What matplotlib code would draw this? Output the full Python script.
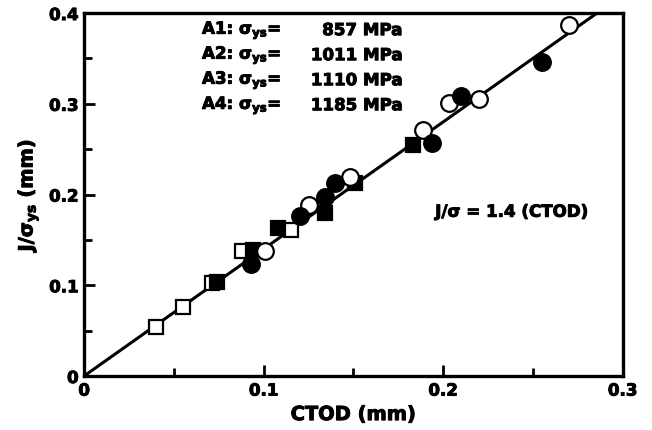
import matplotlib.pyplot as plt
import matplotlib.patheffects as pe
import numpy as np

plt.rcParams['font.family'] = 'DejaVu Sans'
plt.rcParams['font.weight'] = 'bold'
plt.rcParams['mathtext.fontset'] = 'dejavusans'
plt.rcParams['mathtext.default'] = 'rm'

# CTOD (mm) and J/sigma_ys (mm) for each steel
ctod_open_sq = [0.040, 0.055, 0.071, 0.088, 0.115]
j_open_sq = [0.054, 0.076, 0.102, 0.138, 0.161]

ctod_fill_sq = [0.074, 0.094, 0.108, 0.134, 0.151, 0.183]
j_fill_sq = [0.104, 0.139, 0.163, 0.180, 0.213, 0.255]

ctod_fill_ci = [0.093, 0.120, 0.134, 0.140, 0.194, 0.210, 0.255]
j_fill_ci = [0.123, 0.176, 0.197, 0.213, 0.257, 0.309, 0.346]

ctod_open_ci = [0.101, 0.125, 0.148, 0.189, 0.203, 0.220, 0.270]
j_open_ci = [0.138, 0.188, 0.219, 0.271, 0.301, 0.305, 0.387]

steels = ['A1', 'A2', 'A3', 'A4']
sigma_ys = [857, 1011, 1110, 1185]
slope = 1.4

# slightly heavier strokes for the bold lettering
heavy = [pe.withStroke(linewidth=0.7, foreground='k')]

fig = plt.figure(figsize=(6.52, 4.30), dpi=100)
ax = fig.add_axes([0.129, 0.1256, 0.826, 0.844])

# fit line J/sigma = 1.4 CTOD
xl = np.array([0.0, 0.4 / slope])
ax.plot(xl, slope * xl, 'k-', linewidth=2.2, zorder=2)

ax.plot(ctod_open_sq, j_open_sq, 's', mfc='white', mec='k', mew=1.6, ms=10.5, zorder=3)
ax.plot(ctod_fill_sq, j_fill_sq, 's', mfc='k', mec='k', mew=1.6, ms=10.5, zorder=4)
ax.plot(ctod_open_ci, j_open_ci, 'o', mfc='white', mec='k', mew=1.6, ms=12, zorder=5)
ax.plot(ctod_fill_ci, j_fill_ci, 'o', mfc='k', mec='k', mew=1.6, ms=12, zorder=6)

ax.set_xlim(0, 0.3)
ax.set_ylim(0, 0.4)
ax.set_xticks([0, 0.1, 0.2, 0.3])
ax.set_xticklabels(['0', '0.1', '0.2', '0.3'])
ax.set_yticks([0, 0.1, 0.2, 0.3, 0.4])
ax.set_yticklabels(['0', '0.1', '0.2', '0.3', '0.4'])
ax.set_xticks(np.arange(0.05, 0.3, 0.1), minor=True)
ax.set_yticks(np.arange(0.05, 0.4, 0.1), minor=True)
ax.tick_params(which='both', direction='in', width=2, labelsize=12, pad=4)
ax.tick_params(which='major', length=8)
ax.tick_params(which='minor', length=6)
for s in ax.spines.values():
    s.set_linewidth(2.4)
for lab in ax.get_xticklabels() + ax.get_yticklabels():
    lab.set_path_effects(heavy)

ax.set_xlabel('CTOD (mm)', fontsize=14, fontweight='bold', labelpad=4,
              path_effects=heavy)
ax.set_ylabel(r'J/$\sigma_{\mathbf{ys}}$ (mm)', fontsize=14, fontweight='bold',
              labelpad=6, path_effects=heavy)

for i in range(4):
    yy = 0.953 - i * 0.069
    ax.text(0.219, yy, steels[i] + r': $\sigma_{\mathbf{ys}}$=', transform=ax.transAxes,
            fontsize=12, fontweight='bold', ha='left', va='center', path_effects=heavy)
    ax.text(0.59, yy, '%d MPa' % sigma_ys[i], transform=ax.transAxes,
            fontsize=12, fontweight='bold', ha='right', va='center', path_effects=heavy)

ax.text(0.2385, 0.181, r'J/$\sigma$ = %.1f (CTOD)' % slope, fontsize=12,
        fontweight='bold', ha='center', va='center', path_effects=heavy)

fig.savefig('out.png', dpi=100)
